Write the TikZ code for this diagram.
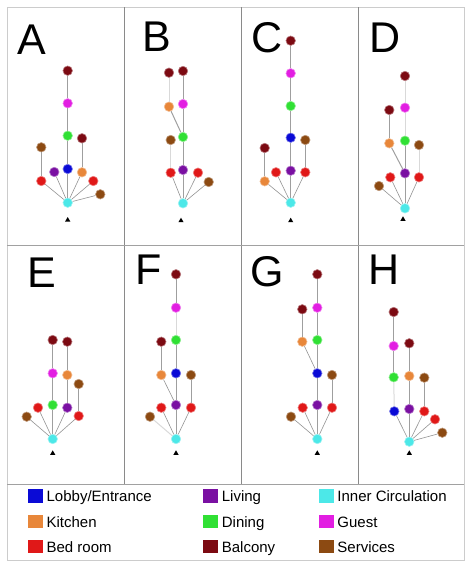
\documentclass[tikz,border=0pt]{standalone}
\usepackage{fontspec}
\setmainfont{Liberation Sans}
\usetikzlibrary{positioning, shapes.geometric}
\definecolor{lobby}{HTML}{0A0AD6}
\definecolor{kitchen}{HTML}{E8873A}
\definecolor{bedroom}{HTML}{E01818}
\definecolor{living}{HTML}{7A10A2}
\definecolor{dining}{HTML}{30E034}
\definecolor{balcony}{HTML}{7C0A12}
\definecolor{circ}{HTML}{4CE8E8}
\definecolor{guest}{HTML}{E21EE2}
\definecolor{services}{HTML}{8C4A12}
\definecolor{rule}{HTML}{8A8A8A}

\tikzset{
  room/.style={circle, inner sep=0pt, minimum size=9.5pt, fill=#1, draw=#1!55!white, line width=0.6pt},
  link/.style={draw=gray!75, line width=1pt},
  faint/.style={draw=gray!30, line width=1pt},
  spoke/.style={draw=gray!85, line width=0.6pt},
  pointer/.style={regular polygon, regular polygon sides=3, fill=black, inner sep=0pt, minimum size=6pt},
  letter/.style={inner sep=0pt, font=\fontsize{43}{43}\selectfont},
  keybox/.style={rectangle, inner sep=0pt, minimum width=14.5pt, minimum height=13.5pt, fill=#1},
  keytext/.style={inner sep=0pt, text height=11pt, text depth=0pt, font=\fontsize{15}{15}\selectfont},
}

\begin{document}
\begin{tikzpicture}[x=1pt, y=-1pt]
\useasboundingbox (0,0) rectangle (470,563);

% Frame and panel rules
\draw[gray!40, line width=0.8pt] (7,7) rectangle (464,560);
\foreach \x in {124,241,358}
  \draw[rule, line width=0.9pt] (\x,7) -- (\x,484);
\draw[rule!80, line width=0.9pt] (7,245) -- (464,245);
\draw[rule!80, line width=0.9pt] (7,484) -- (464,484);

% Panel letters
\foreach \p/\x/\y in {A/32/40, B/157/37, C/267/38, D/385/38, E/42/273, F/149/270, G/267/272, H/384/270}
  \node[letter] (lab\p) at (\x,\y) {\p};

% Entry marks below inner circulation
\foreach \p/\x/\y in {A/67.7/220, B/181/220.7, C/290.7/220.7, D/403/219.3, E/52.7/453.3, F/176/453.3, G/317.3/453.3, H/409.3/453.3}
  \node[pointer] (\p tri) at (\x,\y) {};

% --- Panel A ---
\foreach \n/\x/\y/\c in {bal/67.7/70.7/balcony, gst/67.7/103.3/guest, din/67.7/135.7/dining,
    balr/82/138.3/balcony, srv/41.3/147.3/services, lob/67.7/169/lobby, liv/54.3/172/living,
    kit/82/172.3/kitchen, bed/41.3/181/bedroom, bedr/93.3/181/bedroom,
    srvr/100.3/194.3/services, cir/67.7/202.7/circ}
  \node[room=\c] (A\n) at (\x,\y) {};
\foreach \a/\b in {bal/gst, gst/din, din/lob, lob/cir, balr/kit, srv/bed}
  \draw[link] (A\a) -- (A\b);
\foreach \b in {bed, liv, kit, bedr, srvr}
  \draw[spoke] (Acir) -- (A\b);

% --- Panel B ---
\foreach \n/\x/\y/\c in {bal/169/72.7/balcony, balr/183/71/balcony, kit/169/106.7/kitchen,
    gst/183/104/guest, srv/170.7/140/services, din/183/137/dining, bed/170.7/172.7/bedroom,
    liv/183/170/living, bedr/198/172.7/bedroom, srvr/208.7/182/services, cir/183/203.3/circ}
  \node[room=\c] (B\n) at (\x,\y) {};
\foreach \a/\b in {balr/gst, gst/din, din/liv, liv/cir, kit/din}
  \draw[link] (B\a) -- (B\b);
\foreach \a/\b in {bal/kit, srv/bed}
  \draw[faint] (B\a) -- (B\b);
\foreach \b in {bed, bedr, srvr}
  \draw[spoke] (Bcir) -- (B\b);

% --- Panel C ---
\foreach \n/\x/\y/\c in {bal/290.7/40.7/balcony, gst/290.7/73.3/guest, din/290.7/106/dining,
    lob/290.7/137.7/lobby, srvr/305.3/140/services, ball/264.7/148/balcony, bed/276/172.3/bedroom,
    liv/290.7/170.7/living, bedr/305.3/172.3/bedroom, kit/264.7/181.3/kitchen, cir/290.7/202.7/circ}
  \node[room=\c] (C\n) at (\x,\y) {};
\foreach \a/\b in {bal/gst, gst/din, din/lob, lob/liv, liv/cir, ball/kit, srvr/bedr}
  \draw[link] (C\a) -- (C\b);
\foreach \b in {kit, bed, bedr}
  \draw[spoke] (Ccir) -- (C\b);

% --- Panel D ---
\foreach \n/\x/\y/\c in {bal/405/76/balcony, ball/389.3/110/balcony, gst/405/107.7/guest,
    kit/389.3/143.3/kitchen, din/405/140.7/dining, srvr/419/145/services, bed/390.3/177.3/bedroom,
    liv/405/173.3/living, bedr/419/177.3/bedroom, srvl/379/186/services, cir/405/208.3/circ}
  \node[room=\c] (D\n) at (\x,\y) {};
\foreach \a/\b in {din/liv, liv/cir, ball/kit, kit/liv}
  \draw[link] (D\a) -- (D\b);
\foreach \a/\b in {bal/gst, gst/din, srvr/bedr}
  \draw[faint] (D\a) -- (D\b);
\foreach \b in {srvl, bed, bedr}
  \draw[spoke] (Dcir) -- (D\b);

% --- Panel E ---
\foreach \n/\x/\y/\c in {ball/52.7/340/balcony, balr/67.3/341.7/balcony, gst/52.7/373.3/guest,
    kit/67.3/375/kitchen, srvr/78.7/384/services, bed/38/407.7/bedroom, din/52.7/405/dining,
    liv/67.3/407.7/living, bedr/78.7/416/bedroom, srvl/26.7/416.7/services, cir/52.7/439/circ}
  \node[room=\c] (E\n) at (\x,\y) {};
\foreach \a/\b in {ball/gst, gst/din, din/cir, balr/kit, kit/liv, srvr/bedr}
  \draw[link] (E\a) -- (E\b);
\foreach \b in {srvl, bed, liv, bedr}
  \draw[spoke] (Ecir) -- (E\b);

% --- Panel F ---
\foreach \n/\x/\y/\c in {bal/176/274.3/balcony, gst/176/307.7/guest, ball/161.3/341.7/balcony,
    din/176/340/dining, kit/161.3/375/kitchen, lob/176/373.3/lobby, srvr/191/375/services,
    bed/161.3/407.7/bedroom, liv/176/405/living, bedr/191/407.7/bedroom,
    srvl/150/416.7/services, cir/176/439/circ}
  \node[room=\c] (F\n) at (\x,\y) {};
\foreach \a/\b in {bal/gst, din/lob, lob/liv, liv/cir, ball/kit, srvr/bedr}
  \draw[link] (F\a) -- (F\b);
\foreach \a/\b in {gst/din, cir/srvl}
  \draw[faint] (F\a) -- (F\b);
\foreach \a/\b in {kit/liv, cir/bed, cir/bedr}
  \draw[spoke] (F\a) -- (F\b);

% --- Panel G ---
\foreach \n/\x/\y/\c in {bal/317.3/274.3/balcony, ball/302.3/309.3/balcony, gst/317.3/307.7/guest,
    kit/302.3/341.7/kitchen, din/317.3/340/dining, lob/317.3/373.3/lobby, srvr/332/375/services,
    bed/302.7/407.7/bedroom, liv/317.3/405/living, bedr/332/407.7/bedroom,
    srvl/291/416.7/services, cir/317.3/439/circ}
  \node[room=\c] (G\n) at (\x,\y) {};
\foreach \a/\b in {bal/gst, gst/din, din/lob, lob/liv, liv/cir, ball/kit, srvr/bedr}
  \draw[link] (G\a) -- (G\b);
\foreach \a/\b in {kit/lob, cir/srvl, cir/bed, cir/bedr}
  \draw[spoke] (G\a) -- (G\b);

% --- Panel H ---
\foreach \n/\x/\y/\c in {bal/393.7/312/balcony, gst/393.7/346/guest, balr/409.3/343.3/balcony,
    din/393.7/377.3/dining, kit/409.3/376/kitchen, srvr/424.3/377.7/services,
    lob/394.3/411.3/lobby, liv/409.3/409/living, bed/424.3/411.3/bedroom,
    bedb/435/419.3/bedroom, srvb/442.3/432.7/services, cir/409.3/441.7/circ}
  \node[room=\c] (H\n) at (\x,\y) {};
\foreach \a/\b in {bal/gst, gst/din, balr/kit, kit/liv, liv/cir, srvr/bed}
  \draw[link] (H\a) -- (H\b);
\draw[faint] (Hdin) -- (Hlob);
\foreach \b in {lob, bed, bedb, srvb}
  \draw[spoke] (Hcir) -- (H\b);

% Legend
\foreach \c/\t/\x/\y in {lobby/{Lobby/Entrance}/35.5/496, kitchen/Kitchen/35.5/521.7, bedroom/Bed room/35.5/546.7,
    living/Living/210.7/496, dining/Dining/210.7/521.7, balcony/Balcony/210.7/546.7,
    circ/Inner Circulation/326.3/496, guest/Guest/326.3/521.7, services/Services/326.3/546.7} {
  \node[keybox=\c] (key\c) at (\x,\y) {};
  \node[keytext, right=3.5pt of key\c] (txt\c) {\t};
}

\end{tikzpicture}
\end{document}
